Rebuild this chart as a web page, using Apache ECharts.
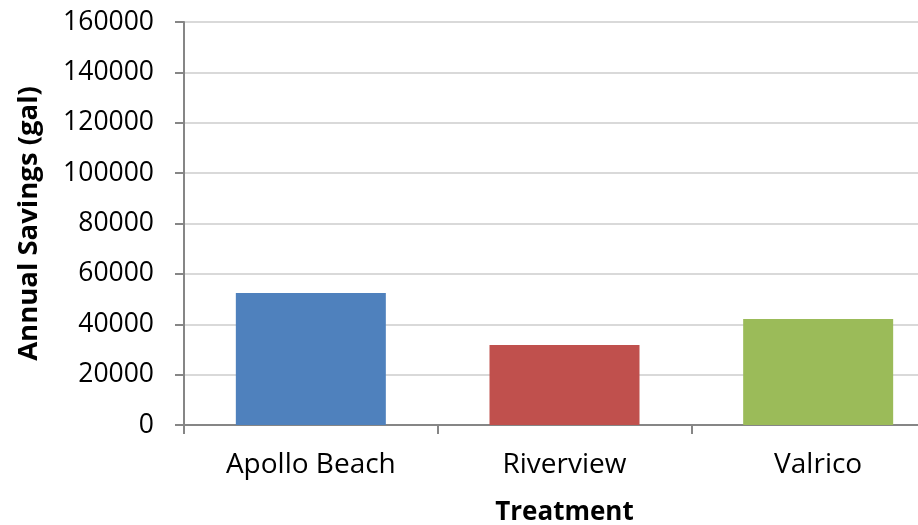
<!DOCTYPE html>
<html>
<head>
<meta charset="utf-8">
<script src="https://cdn.jsdelivr.net/npm/echarts@6/dist/echarts.min.js"></script>
<style>
  html, body { margin: 0; padding: 0; background: #fff; overflow: hidden; }
  #chart { width: 945px; height: 525px; }
</style>
</head>
<body>
<div id="chart"></div>
<script>
// Annual water savings per treatment site
const categories = ['Apollo Beach', 'Riverview', 'Valrico'];
const savings = [52400, 31800, 42100];
const barColors = ['#4f81bd', '#c0504d', '#9bbb59'];
const yTicks = { min: 0, max: 160000, step: 20000 };

const chart = echarts.init(document.getElementById('chart'));
const fontFamily = '"Open Sans", sans-serif';

chart.setOption({
  animation: false,
  grid: { left: 184, right: 0, top: 22, bottom: 100, outerBoundsMode: 'none', containLabel: false },
  xAxis: {
    type: 'category',
    data: categories,
    name: 'Treatment',
    nameLocation: 'middle',
    nameGap: 75,
    nameTextStyle: { fontFamily, fontSize: 26, fontWeight: 'bold', color: '#000' },
    axisLine: { lineStyle: { color: '#868686', width: 2 } },
    axisTick: { show: true, length: 9, lineStyle: { color: '#868686', width: 2 } },
    axisLabel: { fontFamily, fontSize: 28, color: '#000', margin: 26 }
  },
  yAxis: {
    type: 'value',
    min: yTicks.min,
    max: yTicks.max,
    interval: yTicks.step,
    name: 'Annual Savings (gal)',
    nameLocation: 'middle',
    nameGap: 141,
    nameTextStyle: { fontFamily, fontSize: 27.5, fontWeight: 'bold', color: '#000' },
    axisLine: { show: true, lineStyle: { color: '#868686', width: 2 } },
    axisTick: { show: true, length: 9, lineStyle: { color: '#868686', width: 2 } },
    axisLabel: { fontFamily, fontSize: 26.5, color: '#000', margin: 30, formatter: v => String(v) },
    splitLine: { lineStyle: { color: '#d9d9d9', width: 2 } }
  },
  series: [{
    type: 'bar',
    data: savings.map((v, i) => ({ value: v, itemStyle: { color: barColors[i] } })),
    barWidth: 150
  }]
});
</script>
</body>
</html>
